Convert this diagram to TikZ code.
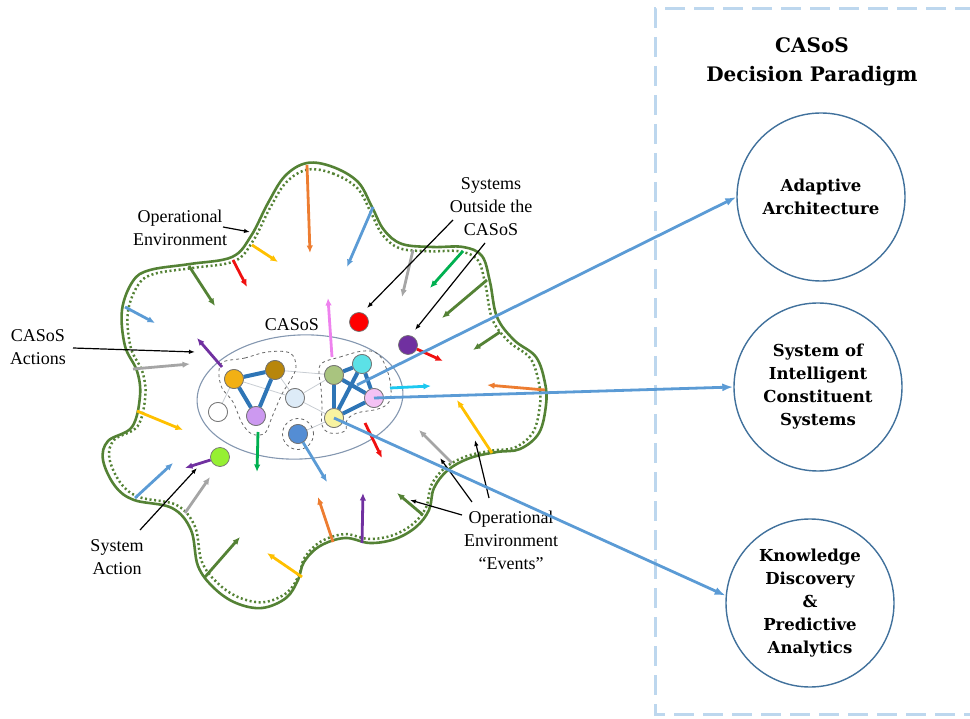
\documentclass[tikz,border=0pt]{standalone}
\usepackage{fontspec}
\setmainfont{Liberation Serif}
\newfontfamily\headfont{DejaVu Serif}
\usetikzlibrary{arrows.meta}

\definecolor{olive}{HTML}{548235}
\definecolor{eorange}{HTML}{ED7D31}
\definecolor{eblue}{HTML}{5B9BD5}
\definecolor{egray}{HTML}{A5A5A5}
\definecolor{egreen}{HTML}{00B050}
\definecolor{eyellow}{HTML}{FFC000}
\definecolor{ered}{HTML}{F01010}
\definecolor{epurple}{HTML}{7030A0}
\definecolor{eviolet}{HTML}{EE82EE}
\definecolor{ecyan}{HTML}{1CC8F0}
\definecolor{edgeblue}{HTML}{2E75B6}
\definecolor{weakgray}{HTML}{C8CDD3}
\definecolor{ringgray}{HTML}{8497B0}
\definecolor{goalblue}{HTML}{41719C}
\definecolor{panelblue}{HTML}{BDD7EE}

\tikzset{
  env/.style={line width=2.8pt, -{Latex[length=7.5pt,width=6.5pt]}},
  ann/.style={line width=1.2pt, draw=black, -{Latex[length=6pt,width=4.5pt]}},
  sysnode/.style={circle, draw=black!55, line width=0.7pt, minimum size=19pt, inner sep=0pt},
  link/.style={line width=4pt, draw=edgeblue},
  weak/.style={line width=0.8pt, draw=weakgray},
  grp/.style={dashed, draw=black!60, line width=0.8pt},
  goal/.style={circle, draw=goalblue, line width=1.4pt, minimum size=168pt, inner sep=0pt,
    align=center, font=\headfont\bfseries\fontsize{16.5}{23}\selectfont},
  lbl/.style={align=center, inner sep=0pt, font=\fontsize{18}{23}\selectfont},
  feed/.style={line width=2.8pt, draw=eblue, -{Latex[length=11pt,width=8pt]}},
  panel/.style={draw=panelblue, line width=3pt, dash pattern=on 20pt off 9pt},
}

\begin{document}
\begin{tikzpicture}[x=1pt,y=-1pt]
\useasboundingbox (0,0) rectangle (970,719);

% operational environment boundary
\draw[olive, line width=2.6pt, line join=round]
  plot[smooth cycle, tension=0.6] coordinates {
  (307,163) (333,167) (358,182) (372,207) (384,230) (402,244) (433,247) (463,247)
  (482,256) (490,282) (497,317) (514,340) (536,357) (545,383) (546,405) (539,433)
  (520,449) (497,452) (470,458) (448,470) (434,488) (429,510) (416,527) (395,539)
  (370,543) (345,538) (320,546) (304,562) (298,580) (286,598) (262,608) (236,603)
  (214,588) (198,566) (191,530) (172,508) (134,500) (115,486) (103,460) (108,441)
  (132,427) (140,396) (137,371) (125,346) (122,310) (133,281) (150,270) (190,264)
  (232,257) (251,236) (268,203) (285,176)};
\begin{scope}[shift={(330,400)}, scale=0.972, shift={(-330,-400)}]
\draw[olive, line width=2.5pt, dash pattern=on 2pt off 2.6pt]
  plot[smooth cycle, tension=0.6] coordinates {
  (307,163) (333,167) (358,182) (372,207) (384,230) (402,244) (433,247) (463,247)
  (482,256) (490,282) (497,317) (514,340) (536,357) (545,383) (546,405) (539,433)
  (520,449) (497,452) (470,458) (448,470) (434,488) (429,510) (416,527) (395,539)
  (370,543) (345,538) (320,546) (304,562) (298,580) (286,598) (262,608) (236,603)
  (214,588) (198,566) (191,530) (172,508) (134,500) (115,486) (103,460) (108,441)
  (132,427) (140,396) (137,371) (125,346) (122,310) (133,281) (150,270) (190,264)
  (232,257) (251,236) (268,203) (285,176)};
\end{scope}

% the CASoS ellipse
\draw[ringgray, line width=1.1pt, rotate around={3:(300,397)}] (300,397) ellipse [x radius=103, y radius=62];
\node[lbl] (casoslbl) at (292,325) {CASoS};

% constituent systems
\node[sysnode, fill=white]          (wh) at (218,412) {};
\node[sysnode, fill={rgb,255:red,242;green,176;blue,20}] (gd) at (234,379) {};
\node[sysnode, fill={rgb,255:red,184;green,134;blue,11}] (bn) at (275,370) {};
\node[sysnode, fill={rgb,255:red,204;green,153;blue,240}] (vi) at (256,416) {};
\node[sysnode, fill={rgb,255:red,221;green,235;blue,247}] (pl) at (295,398) {};
\node[sysnode, fill={rgb,255:red,84;green,141;blue,212}]  (bl) at (298,434) {};
\node[sysnode, fill={rgb,255:red,169;green,196;blue,127}] (gr) at (334,375) {};
\node[sysnode, fill={rgb,255:red,92;green,225;blue,230}]  (cy) at (362,364) {};
\node[sysnode, fill={rgb,255:red,244;green,194;blue,244}] (pk) at (374,398) {};
\node[sysnode, fill={rgb,255:red,248;green,243;blue,160}] (yl) at (334,418) {};
\node[sysnode, fill=epurple]  (pu) at (408,345) {};
\node[sysnode, fill=red]      (rd) at (359,322) {};
\node[sysnode, fill={rgb,255:red,150;green,240;blue,50}] (lm) at (220,457) {};

% weak ties
\draw[weak] (wh) -- (gd);
\draw[weak] (gd) -- (pl);
\draw[weak] (bn) -- (pl);
\draw[weak] (bn) -- (gr);
\draw[weak] (pl) -- (gr);
\draw[weak] (pl) -- (yl);
\draw[weak] (bl) -- (yl);

% groupings
\draw[grp] plot[smooth cycle, tension=0.6] coordinates {
  (223,362) (245,358) (267,352) (290,353) (296,367) (290,381) (282,394)
  (272,417) (265,433) (252,434) (242,423) (233,402) (222,388) (219,373)};
\draw[grp] plot[smooth cycle, tension=0.6] coordinates {
  (322,363) (340,357) (363,351) (378,354) (387,370) (391,388) (389,402)
  (378,409) (357,413) (347,420) (345,431) (330,433) (322,425) (322,406) (321,388) (319,373)};
\node[circle, grp, minimum size=31pt, inner sep=0pt] (blring) at (298,434) {};

% strong ties
\draw[link] (gd) -- (bn);
\draw[link] (gd) -- (vi);
\draw[link] (bn) -- (vi);
\draw[link] (gr) -- (cy);
\draw[link] (gr) -- (yl);
\draw[link] (gr) -- (pk);
\draw[link] (cy) -- (pk);
\draw[link] (cy) -- (yl);
\draw[link] (yl) -- (pk);

% redraw the nodes above the ties
\node[sysnode, fill={rgb,255:red,242;green,176;blue,20}] at (gd) {};
\node[sysnode, fill={rgb,255:red,184;green,134;blue,11}] at (bn) {};
\node[sysnode, fill={rgb,255:red,204;green,153;blue,240}] at (vi) {};
\node[sysnode, fill={rgb,255:red,221;green,235;blue,247}] at (pl) {};
\node[sysnode, fill={rgb,255:red,169;green,196;blue,127}] at (gr) {};
\node[sysnode, fill={rgb,255:red,92;green,225;blue,230}]  at (cy) {};
\node[sysnode, fill={rgb,255:red,244;green,194;blue,244}] at (pk) {};
\node[sysnode, fill={rgb,255:red,248;green,243;blue,160}] at (yl) {};
\node[sysnode, fill=white] at (wh) {};
\node[sysnode, fill={rgb,255:red,84;green,141;blue,212}] at (bl) {};

% environment events
\foreach \n/\sx/\sy/\ex/\ey/\c in {
  1/307/165/310/253/eorange, 2/373/207/347/267/eblue, 3/413/250/402/297/egray,
  4/463/251/430/288/egreen, 5/487/280/442/318/olive, 6/500/332/473/350/olive,
  7/545/390/487/385/eorange, 8/492/453/457/400/eyellow, 9/452/463/419/430/egray,
  10/423/515/397/493/olive, 11/362/543/363/493/epurple, 12/333/542/318/497/eorange,
  13/302/577/267/553/eyellow, 14/205/577/240/537/olive, 15/185/513/210/477/egray,
  16/135/498/173/463/eblue, 17/137/411/183/430/eyellow, 18/133/369/190/364/egray,
  19/125/307/155/323/eblue, 20/189/266/215/306/olive, 21/233/260/247/287/ered,
  22/252/245/278/262/eyellow}{
  \coordinate (ev\n) at (\sx,\sy);
  \coordinate (et\n) at (\ex,\ey);
  \draw[env, color=\c] (ev\n) -- (et\n);
}

% CASoS and system actions
\foreach \n/\sx/\sy/\ex/\ey/\c in {
  23/332/357/328/298/eviolet, 24/222/367/197/338/epurple, 25/258/432/257/472/egreen,
  27/365/423/382/458/ered, 28/390/388/431/386/ecyan}{
  \coordinate (ac\n) at (\sx,\sy);
  \coordinate (at\n) at (\ex,\ey);
  \draw[env, color=\c] (ac\n) -- (at\n);
}
\coordinate (at26) at (327,482);
\coordinate (at29) at (443,361);
\coordinate (at30) at (185,468);
\draw[env, color=eblue] (bl) -- (at26);
\draw[env, color=ered] (pu) -- (at29);
\draw[env, color=epurple] (lm) -- (at30);

% labels and pointers
\node[lbl] (oplbl) at (180,228) {Operational\\Environment};
\node[lbl] (outlbl) at (491,207) {Systems\\Outside the\\CASoS};
\node[lbl] (actlbl) at (38,347) {CASoS\\Actions};
\node[lbl] (sactlbl) at (117,557) {System\\Action};
\node[lbl] (evlbl) at (511,540) {Operational\\Environment\\“Events”};

\coordinate (p1) at (223,227); \coordinate (q1) at (250,232);
\coordinate (p2) at (453,220); \coordinate (q2) at (367,308);
\coordinate (p3) at (485,243); \coordinate (q3) at (415,330);
\coordinate (p4) at (73,348);  \coordinate (q4) at (195,352);
\coordinate (p5) at (140,530); \coordinate (q5) at (197,468);
\coordinate (p6) at (462,515); \coordinate (q6) at (410,500);
\coordinate (p7) at (472,502); \coordinate (q7) at (440,458);
\coordinate (p8) at (489,498); \coordinate (q8) at (475,440);
\foreach \i in {1,...,8}{ \draw[ann] (p\i) -- (q\i); }

% decision paradigm panel
\draw[panel] (975,9) -- (655,9) -- (655,714) -- (975,714);
\node[align=center, font=\headfont\bfseries\fontsize{20}{29}\selectfont] (title) at (812,62)
  {CASoS\\Decision Paradigm};
\node[goal] (aa) at (821,197) {Adaptive\\Architecture};
\node[goal] (sics) at (818,387) {System of\\Intelligent\\Constituent\\Systems};
\node[goal] (kd) at (810,603) {Knowledge\\Discovery\\\&\\Predictive\\Analytics};

\coordinate (src) at (357,385);
\draw[feed] (src) -- (aa.west);
\draw[feed] (pk.center) -- (sics.west);
\draw[feed] (yl.center) -- (kd.175);
\end{tikzpicture}
\end{document}
